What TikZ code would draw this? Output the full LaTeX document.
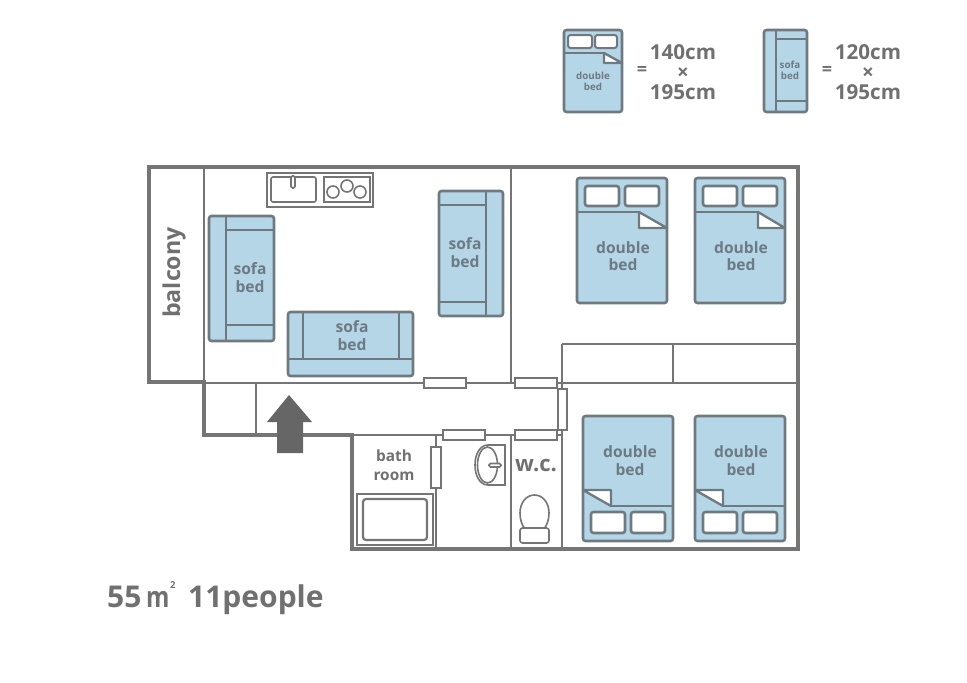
\documentclass[tikz,border=0pt]{standalone}
\usepackage{fontspec}
\setmainfont{Open Sans}
\definecolor{wall}{HTML}{757575}
\definecolor{bedblue}{HTML}{B5D6E6}
\definecolor{bedline}{HTML}{6F7A80}
\definecolor{bedtext}{HTML}{6C7A84}
\definecolor{roomtext}{HTML}{707070}
\tikzset{
  wallline/.style={draw=wall,line width=3.2pt,line cap=rect},
  thinwall/.style={draw=wall,line width=2.4pt},
  opening/.style={draw=wall,fill=white,line width=2pt},
  fixture/.style={draw=wall,fill=white,line width=1.6pt},
  furn/.style={draw=bedline,fill=bedblue,line width=2.6pt,rounded corners=2.5pt},
  furnline/.style={draw=bedline,line width=2.6pt},
  pillow/.style={draw=bedline,fill=white,line width=2.6pt,rounded corners=2.5pt},
  flap/.style={draw=bedline,fill=white,line width=2.3pt,line join=round},
  bedlabel/.style={text=bedtext,font=\bfseries\fontsize{15.6}{17.5}\selectfont,align=center,inner sep=0pt},
  smalllabel/.style={text=bedtext,font=\bfseries\fontsize{9.8}{11}\selectfont,align=center,inner sep=0pt},
  roomlabel/.style={text=roomtext,font=\bfseries\fontsize{15.4}{19}\selectfont,align=center,inner sep=0pt},
  sizelabel/.style={text=roomtext,font=\bfseries\fontsize{20.6}{19.7}\selectfont,align=center,inner sep=0pt},
  titlelabel/.style={text=roomtext,font=\bfseries\fontsize{30}{31}\selectfont,inner sep=0pt},
}
\begin{document}
\begin{tikzpicture}[x=1pt,y=-1pt]
\useasboundingbox (0,0) rectangle (967,683);
% ---- walls
\draw[thinwall] (204,167) -- (204,383);
\draw[wallline] (204,382) -- (149,382) -- (149,167) -- (798,167) -- (798,549) -- (352,549) -- (352,435) -- (204,435) -- (204,382);
\draw[thinwall] (204,383) -- (798,383);
\draw[thinwall] (256,383) -- (256,435);
\draw[thinwall] (352,435) -- (562,435);
\draw[thinwall] (511,167) -- (511,383);
\draw[thinwall] (562,344) -- (798,344);
\draw[thinwall] (562,344) -- (562,383);
\draw[thinwall] (673,344) -- (673,383);
\draw[thinwall] (562,383) -- (562,549);
\draw[thinwall] (436,435) -- (436,549);
\draw[thinwall] (511,435) -- (511,549);
% ---- door and window openings
\draw[opening] (424,378) rectangle (466,388);
\draw[opening] (515,378) rectangle (557,388);
\draw[opening] (558,389) rectangle (567,430);
\draw[opening] (443,430) rectangle (485,440);
\draw[opening] (515,430) rectangle (557,440);
\draw[opening] (431,447) rectangle (441,488);
% ---- kitchen
\draw[draw=wall,fill=white,line width=2.4pt] (267,173) rectangle (373,207);
\draw[fixture,rounded corners=2pt] (271,177) rectangle (316,202);
\draw[fixture,rounded corners=1.5pt] (291,176) rectangle (295,188);
\draw[fixture] (324,177) rectangle (370,202);
\draw[fixture] (333,192) circle (6);
\draw[fixture] (347,186) circle (6);
\draw[fixture] (360,192) circle (6);
% ---- bath room
\draw[draw=wall,fill=white,line width=2.2pt] (357,494) rectangle (433,545);
\draw[draw=wall,fill=white,line width=2.2pt,rounded corners=3pt] (363,499) rectangle (427,540);
% ---- sink
\draw[fixture] (505,445) -- (488,445) .. controls (480,445) and (475,454) .. (475,465) .. controls (475,476) and (480,485) .. (488,485) -- (505,485) -- cycle;
\draw[fixture] (487.5,465) ellipse (10 and 18);
\draw[fixture,rounded corners=1.5pt] (489,463.5) rectangle (501,467);
% ---- toilet
\draw[fixture] (534.5,495) .. controls (526,495) and (520,503) .. (520,513) .. controls (520,520) and (522,525) .. (525,529) -- (544,529) .. controls (547,525) and (549,520) .. (549,513) .. controls (549,503) and (543,495) .. (534.5,495) -- cycle;
\draw[fixture,rounded corners=2.5pt] (520,528) rectangle (549,543);
% ---- sofa beds
\draw[furn] (209,216) rectangle (274,341);
\draw[furnline] (226,216) -- (226,341);
\draw[furnline] (226,230) -- (274,230);
\draw[furnline] (226,325) -- (274,325);
\draw[furn] (288,312) rectangle (413,376);
\draw[furnline] (303,312) -- (303,359);
\draw[furnline] (399,312) -- (399,359);
\draw[furnline] (288,359) -- (413,359);
\draw[furn] (439,191) rectangle (503,316);
\draw[furnline] (486,191) -- (486,316);
\draw[furnline] (439,205) -- (486,205);
\draw[furnline] (439,302) -- (486,302);
% ---- double beds
\draw[furn] (577,178) rectangle (667,303);
\draw[furnline] (577,212) -- (639,212);
\draw[flap] (639,212) -- (639,228) -- (667,228) -- cycle;
\draw[pillow] (585,186) rectangle (619,206);
\draw[pillow] (625,186) rectangle (659,206);
\draw[furn] (695,178) rectangle (785,303);
\draw[furnline] (695,212) -- (758,212);
\draw[flap] (758,212) -- (758,228) -- (785,228) -- cycle;
\draw[pillow] (703,186) rectangle (737,206);
\draw[pillow] (743,186) rectangle (777,206);
\draw[furn] (583,416) rectangle (673,541);
\draw[furnline] (611,506) -- (673,506);
\draw[flap] (611,506) -- (611,490) -- (583,490) -- cycle;
\draw[pillow] (591,512) rectangle (625,533);
\draw[pillow] (631,512) rectangle (665,533);
\draw[furn] (695,416) rectangle (785,541);
\draw[furnline] (723,506) -- (785,506);
\draw[flap] (723,506) -- (723,490) -- (695,490) -- cycle;
\draw[pillow] (703,512) rectangle (737,533);
\draw[pillow] (743,512) rectangle (777,533);
% ---- entrance arrow
\fill[fill=black!60] (289,395) -- (312,422) -- (303,422) -- (303,453) -- (277,453) -- (277,422) -- (267,422) -- cycle;
% ---- legend
\draw[furn] (564,30) rectangle (622,112);
\draw[furnline] (564,53) -- (604,53);
\draw[flap] (604,53) -- (604,63) -- (622,63) -- cycle;
\draw[pillow,line width=2pt] (568,35) rectangle (592,48);
\draw[pillow,line width=2pt] (595,35) rectangle (617,48);
\draw[furn] (764,30) rectangle (807,112);
\draw[furnline] (776,30) -- (776,112);
\draw[furnline] (776,39) -- (807,39);
\draw[furnline] (776,101) -- (807,101);
% ---- labels
\node[smalllabel] (legenddouble) at (593,81.5) {double\\bed};
\node[smalllabel] (legendsofa) at (790,70.5) {sofa\\bed};
\node[roomlabel,font=\bfseries\fontsize{18}{19}\selectfont] (eq1) at (642,71) {=};
\node[roomlabel,font=\bfseries\fontsize{18}{19}\selectfont] (eq2) at (827,71) {=};
\node[sizelabel] (size1) at (683,72) {140cm\\×\\195cm};
\node[sizelabel] (size2) at (868,72) {120cm\\×\\195cm};
\node[bedlabel] (sofa1) at (250,277.5) {sofa\\bed};
\node[bedlabel] (sofa2) at (352,335.5) {sofa\\bed};
\node[bedlabel] (sofa3) at (465,252.5) {sofa\\bed};
\node[bedlabel] (bed1) at (623,256) {double\\bed};
\node[bedlabel] (bed2) at (741,256) {double\\bed};
\node[bedlabel] (bed3) at (630,460.5) {double\\bed};
\node[bedlabel] (bed4) at (741,460.5) {double\\bed};
\node[roomlabel,font=\bfseries\fontsize{23.2}{24}\selectfont,rotate=90] (balcony) at (174,272.5) {balcony};
\node[roomlabel] (bath) at (394,465.5) {bath\\room};
\node[roomlabel,font=\bfseries\fontsize{22}{24}\selectfont] (wc) at (536,466) {w.c.};
\node[titlelabel,anchor=base west] (area) at (107,607.5) {55};
\node[titlelabel,anchor=base west] (unit) at (146,607.5) {\fontsize{29}{30}\selectfont\scalebox{0.82}[1]{m}\kern0.5pt\raisebox{19pt}{\fontsize{9.5}{10}\selectfont 2}};
\node[titlelabel,anchor=base west] (people) at (188,607.5) {11people};
\end{tikzpicture}
\end{document}
